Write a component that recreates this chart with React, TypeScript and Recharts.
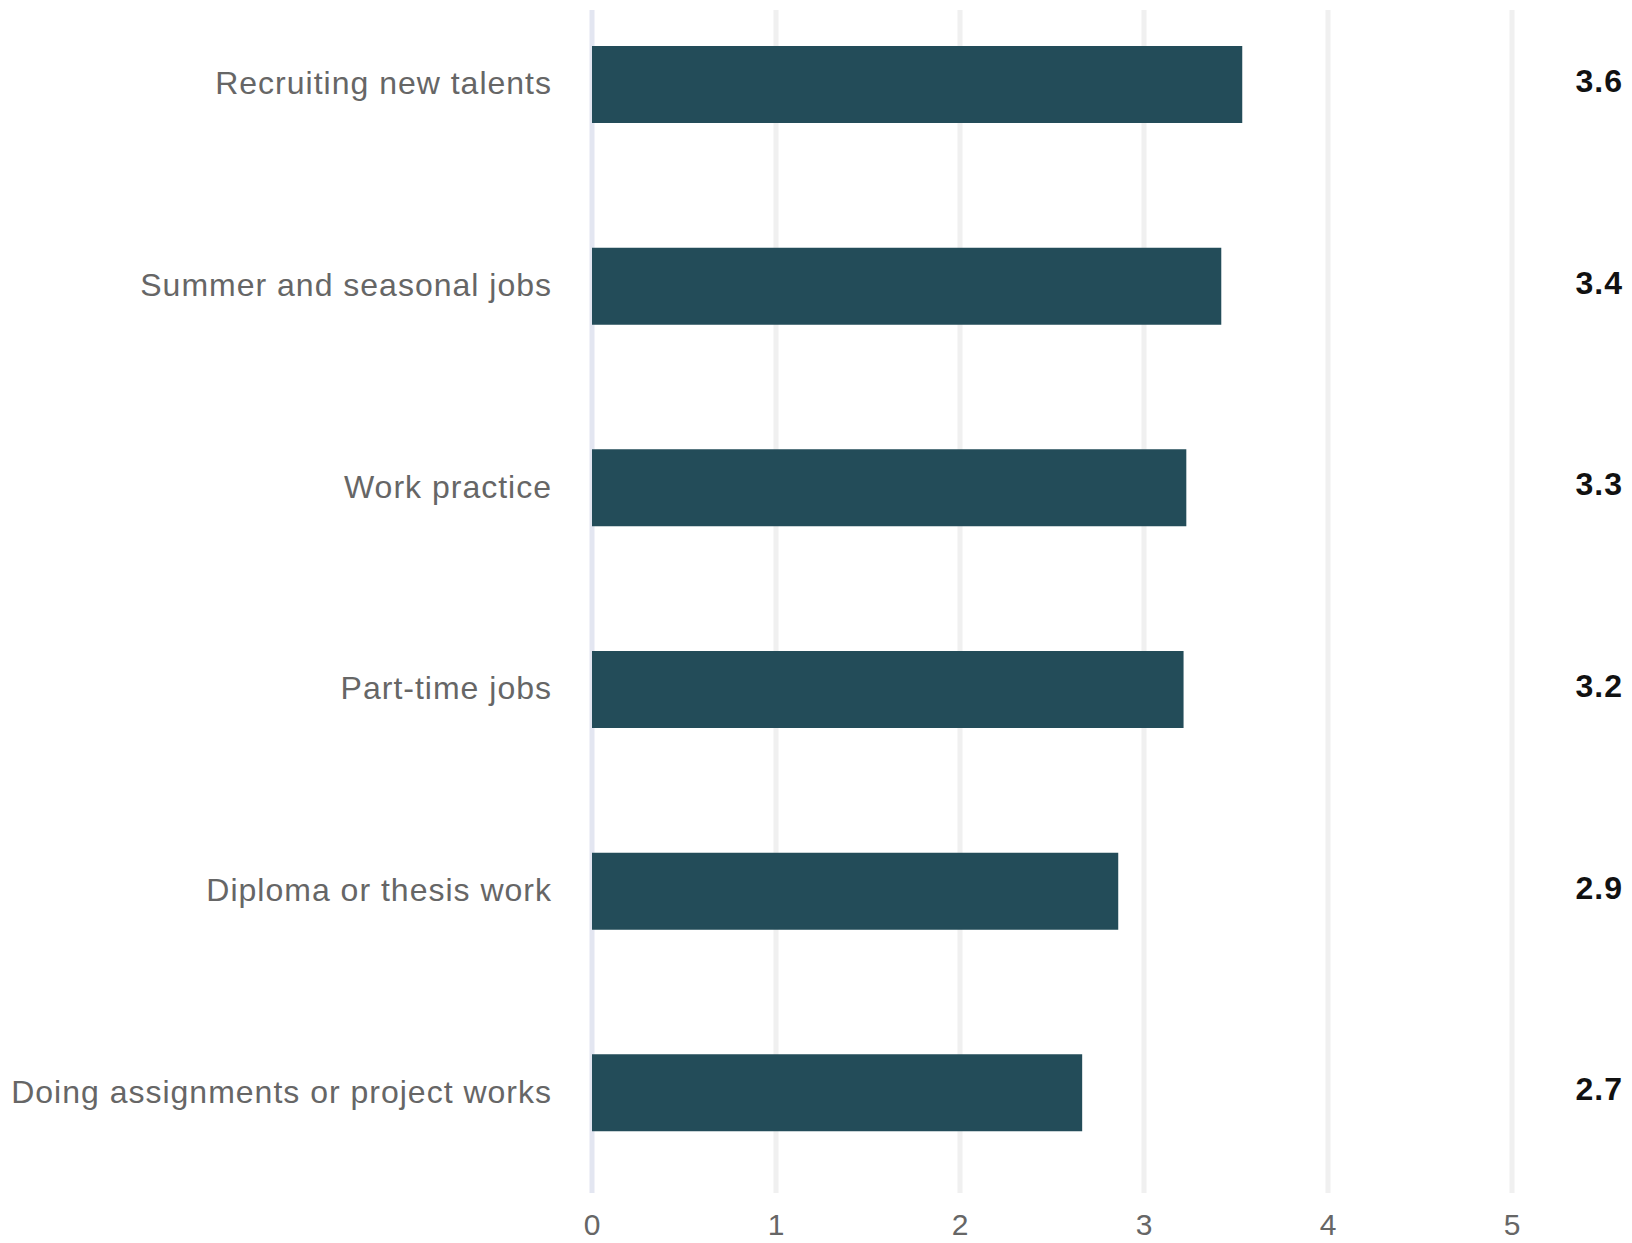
import React from 'react';
import { BarChart, Bar, XAxis, YAxis, CartesianGrid, LabelList } from 'recharts';

const categories = [
  'Recruiting new talents',
  'Summer and seasonal jobs',
  'Work practice',
  'Part-time jobs',
  'Diploma or thesis work',
  'Doing assignments or project works',
];
const values = [3.534, 3.42, 3.23, 3.215, 2.86, 2.664];
const valueLabels = ['3.6', '3.4', '3.3', '3.2', '2.9', '2.7'];
const xTicks = [0, 1, 2, 3, 4, 5];

const data = categories.map((c, i) => ({ name: c, value: values[i], label: valueLabels[i] }));

const FONT = '"Liberation Sans", Arial, sans-serif';
const TOP_SHIFT = 16;
const GRID_TOP = 10 + TOP_SHIFT;

const gridLine = (props: any) => {
  const isZero = props.index === 0;
  return (
    <line
      key={props.key ?? `g-${props.index}`}
      x1={props.x1}
      x2={props.x2}
      y1={props.y1 + GRID_TOP}
      y2={props.y2 - 1}
      stroke={isZero ? '#e3e6f1' : '#f0f0f0'}
      strokeWidth={5}
    />
  );
};

const valueLabel = (props: any) => {
  const cy = props.y + props.height / 2;
  return (
    <text
      x={1623}
      y={cy + 32 * 0.355 - 4}
      textAnchor="end"
      fontFamily={FONT}
      fontSize={32}
      fontWeight="bold"
      letterSpacing={1}
      fill="#111"
    >
      {props.value}
    </text>
  );
};

const CategoryTick = (props: any) => {
  const { x, y, payload } = props;
  return (
    <text
      x={x}
      y={y - 2}
      dy="0.355em"
      textAnchor="end"
      fontFamily={FONT}
      fontSize={32}
      fill="#666"
      letterSpacing={1}
    >
      {payload.value}
    </text>
  );
};

export default function App() {
  return (
    <div style={{ position: 'absolute', left: 0, top: -TOP_SHIFT, background: '#fff' }}>
      <BarChart
        width={1632}
        height={1243 + TOP_SHIFT}
        data={data}
        layout="vertical"
        margin={{ top: 0, right: 120, bottom: 0, left: 0 }}
        barCategoryGap={0}
      >
        <CartesianGrid horizontal={false} vertical={gridLine} />
        <XAxis
          type="number"
          domain={[0, 5]}
          ticks={xTicks}
          axisLine={false}
          tickLine={false}
          tickSize={6}
          tickMargin={14}
          height={49}
          tick={{ fontFamily: FONT, fontSize: 30, fill: '#666' }}
        />
        <YAxis
          type="category"
          dataKey="name"
          width={592}
          axisLine={false}
          tickLine={false}
          tickSize={6}
          tickMargin={34}
          interval={0}
          tick={<CategoryTick />}
        />
        <Bar dataKey="value" fill="#234c59" barSize={77} isAnimationActive={false}>
          <LabelList dataKey="label" content={valueLabel} />
        </Bar>
      </BarChart>
    </div>
  );
}
